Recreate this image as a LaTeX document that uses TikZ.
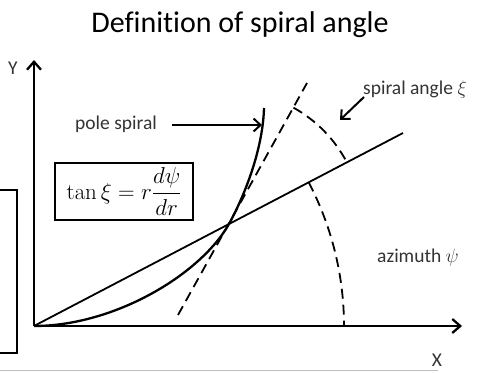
\documentclass[tikz,border=0pt]{standalone}
\usepackage{fix-cm}
\usepackage[no-math]{fontspec}
\setmainfont{Carlito}[Ligatures=NoCommon]
\usetikzlibrary{arrows.meta}
\begin{document}
\begin{tikzpicture}[x=1pt,y=1pt,
  lbl/.style={text=black!80, font=\fontsize{19.5}{22}\selectfont, inner sep=0pt},
  axis/.style={line width=2.3pt, -{Straight Barb[length=8pt,width=14pt,line width=2.3pt]}},
  pointer/.style={line width=2pt, -{Straight Barb[length=7pt,width=13pt,line width=2pt]}},
  dsh/.style={line width=1.8pt, dash pattern=on 10pt off 6pt},
  thin line/.style={line width=1.8pt}]
\useasboundingbox (0,0) rectangle (478,372);
% coordinates
\coordinate (O) at (34,46);
\coordinate (Ytip) at (34,312);
\coordinate (Xtip) at (462,46);
\coordinate (P) at (229,148);
\coordinate (R) at (403,239);
\coordinate (S) at (264,264);
\coordinate (T1) at (178,57);
\coordinate (T2) at (307,289);
% title
\node[anchor=base, font=\fontsize{30}{34}\selectfont, inner sep=0pt] (title) at (240,339) {Definition of spiral angle};
% axes
\draw[axis] (O) -- (Ytip);
\draw[axis] (O) -- (Xtip);
\node[lbl] (ylab) at (13,304) {Y};
\node[lbl] (xlab) at (437,12) {X};
% radius line
\draw[thin line] (O) -- (R);
% tangent
\draw[dsh] (T1) -- (T2);
% spiral
\draw[line width=2.3pt] (O) .. controls (114,46) and (200,97) .. (P)
  .. controls (248,183) and (263,227) .. (S);
% spiral angle arc
\draw[dsh] (P) ++(61:133) arc[start angle=61, end angle=27.6, radius=133];
% azimuth arc
\draw[dsh] (O) ++(27.6:310) arc[start angle=27.6, end angle=0, radius=310];
% labels
\node[lbl, anchor=base west] (pole) at (75,242) {pole spiral};
\coordinate (poleA) at (172,247);
\coordinate (poleB) at (262,247);
\draw[pointer] (poleA) -- (poleB);
\node[lbl, anchor=base west] (sang) at (363,277) {spiral angle $\xi$};
\coordinate (sA) at (364,275);
\coordinate (sB) at (340,252);
\draw[pointer] (sA) -- (sB);
\node[lbl, anchor=base west] (azi) at (377,110) {azimuth $\psi$};
% formula box
\node[draw, line width=1.8pt, minimum width=138pt, minimum height=57pt, inner sep=0pt,
  font=\fontsize{23}{27}\selectfont] (formula) at (124,180.5)
  {$\displaystyle \tan\xi = r\frac{d\psi}{dr}$};
% left partial box
\draw[line width=2.2pt] (-5,182) -- (17,182) -- (17,19) -- (-5,19);
% bottom gray rule
\draw[line width=1.5pt, black!25] (0,1.5) -- (438,1.5);
\end{tikzpicture}
\end{document}
